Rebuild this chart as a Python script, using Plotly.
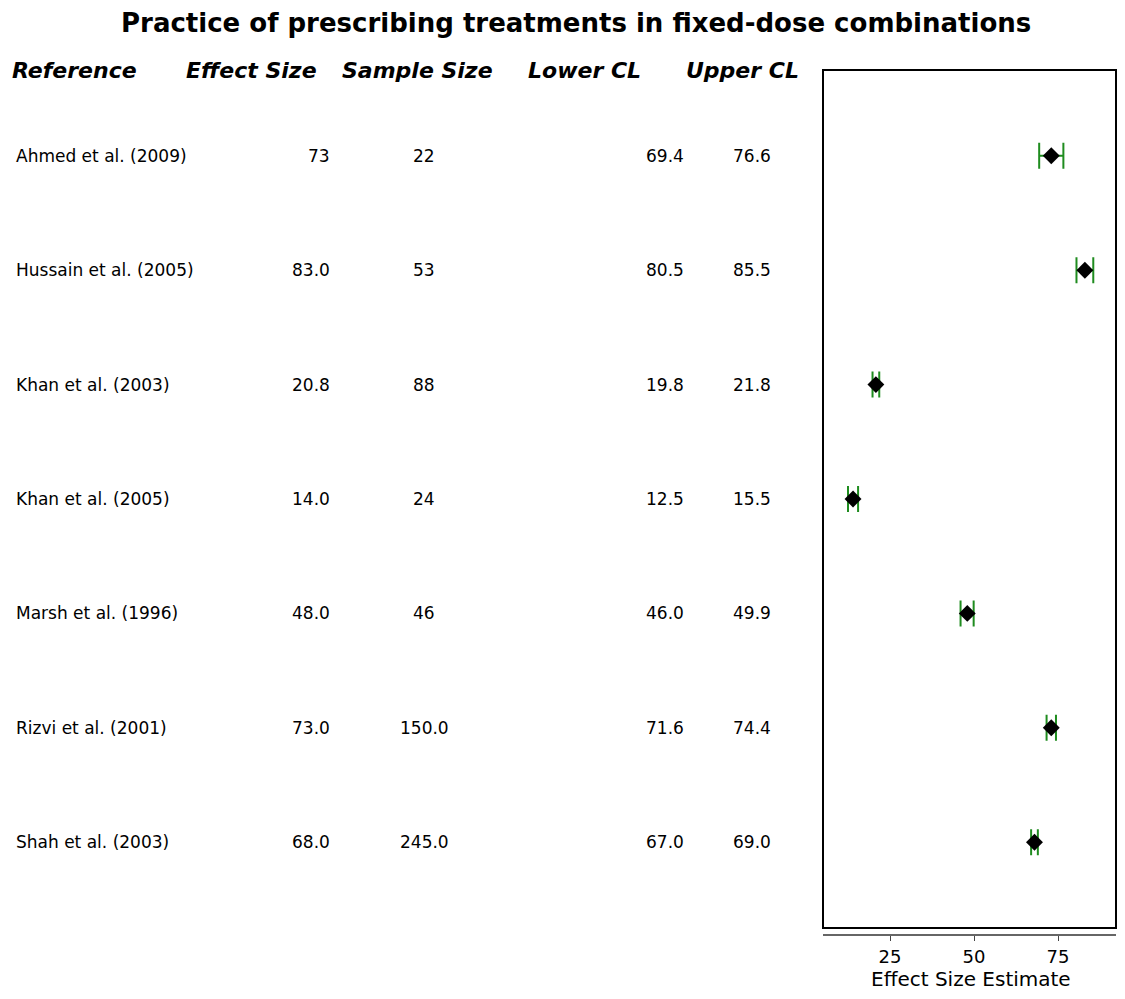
import plotly.graph_objects as go

references = ["Ahmed et al. (2009)", "Hussain et al. (2005)", "Khan et al. (2003)",
              "Khan et al. (2005)", "Marsh et al. (1996)", "Rizvi et al. (2001)", "Shah et al. (2003)"]
effect_size = [73, 83.0, 20.8, 14.0, 48.0, 73.0, 68.0]
effect_label = ["73", "83.0", "20.8", "14.0", "48.0", "73.0", "68.0"]
sample_size = ["22", "53", "88", "24", "46", "150.0", "245.0"]
lower_cl = [69.4, 80.5, 19.8, 12.5, 46.0, 71.6, 67.0]
upper_cl = [76.6, 85.5, 21.8, 15.5, 49.9, 74.4, 69.0]
headers = ["Reference", "Effect Size", "Sample Size", "Lower CL", "Upper CL"]
x_ticks = [25, 50, 75]

OFF = 8  # page body margin
W, H = 1125 - 2 * OFF, 999 - 2 * OFF
rows = list(range(len(references)))

def px(x):
    return (x - OFF) / W

def py(y):
    return 1 - (y - OFF) / H

FAM = "DejaVu Sans, Arial, sans-serif"

fig = go.Figure()
fig.add_trace(go.Scatter(
    x=effect_size, y=rows, mode="markers",
    marker=dict(symbol="diamond", size=13, color="black"),
    error_x=dict(type="data", symmetric=False,
                 array=[u - e for u, e in zip(upper_cl, effect_size)],
                 arrayminus=[e - l for e, l in zip(effect_size, lower_cl)],
                 color="#1f8c1f", thickness=2, width=13),
    showlegend=False, hoverinfo="skip"))

font_row = dict(family=FAM, size=17, color="black")
ann = []
for i, r in enumerate(rows):
    ann.append(dict(x=px(14), y=r, xref="paper", yref="y", text=references[i],
                    xanchor="left", showarrow=False, font=font_row))
    ann.append(dict(x=px(332), y=r, xref="paper", yref="y", text=effect_label[i],
                    xanchor="right", showarrow=False, font=font_row))
    ann.append(dict(x=px(424), y=r, xref="paper", yref="y", text=sample_size[i],
                    xanchor="center", showarrow=False, font=font_row))
    ann.append(dict(x=px(686), y=r, xref="paper", yref="y", text=f"{lower_cl[i]:.1f}",
                    xanchor="right", showarrow=False, font=font_row))
    ann.append(dict(x=px(773), y=r, xref="paper", yref="y", text=f"{upper_cl[i]:.1f}",
                    xanchor="right", showarrow=False, font=font_row))

font_head = dict(family=FAM, size=22, color="black")
head_x = [10, 184, 340, 526, 684]
for h, x in zip(headers, head_x):
    ann.append(dict(x=px(x), y=py(70), xref="paper", yref="paper",
                    text=f"<b><i>{h}</i></b>", xanchor="left", yanchor="middle",
                    showarrow=False, font=font_head))

ann.append(dict(x=px(576), y=py(23), xref="paper", yref="paper",
                text="<b>Practice of prescribing treatments in fixed-dose combinations</b>",
                xanchor="center", yanchor="middle", showarrow=False,
                font=dict(family=FAM, size=26, color="black")))
ann.append(dict(x=px(971), y=py(979), xref="paper", yref="paper",
                text="Effect Size Estimate", xanchor="center", yanchor="middle",
                showarrow=False,
                font=dict(family=FAM, size=20, color="black")))

right_px = min(1116, OFF + W - 1)
fig.update_layout(
    width=W, height=H, margin=dict(l=0, r=0, t=0, b=0),
    paper_bgcolor="white", plot_bgcolor="white",
    annotations=ann,
    xaxis=dict(domain=[px(823), px(right_px)],
               range=[25 - (890 - 823) / 3.36, 75 + (right_px - 1058) / 3.36],
               tickvals=x_ticks, ticks="outside", ticklen=5, tickcolor="#444",
               showline=True, linecolor="#666", linewidth=2,
               anchor="free", position=py(935), showgrid=False, zeroline=False,
               tickfont=dict(family=FAM, size=18, color="black")),
    yaxis=dict(domain=[py(928), py(70)], range=[6.75, -0.75],
               showticklabels=False, showgrid=False, zeroline=False, ticks=""),
    shapes=[dict(type="rect", xref="x domain", yref="y domain", x0=0, x1=1, y0=0, y1=1,
                 line=dict(color="black", width=2))],
)

fig.write_html("out.html")
